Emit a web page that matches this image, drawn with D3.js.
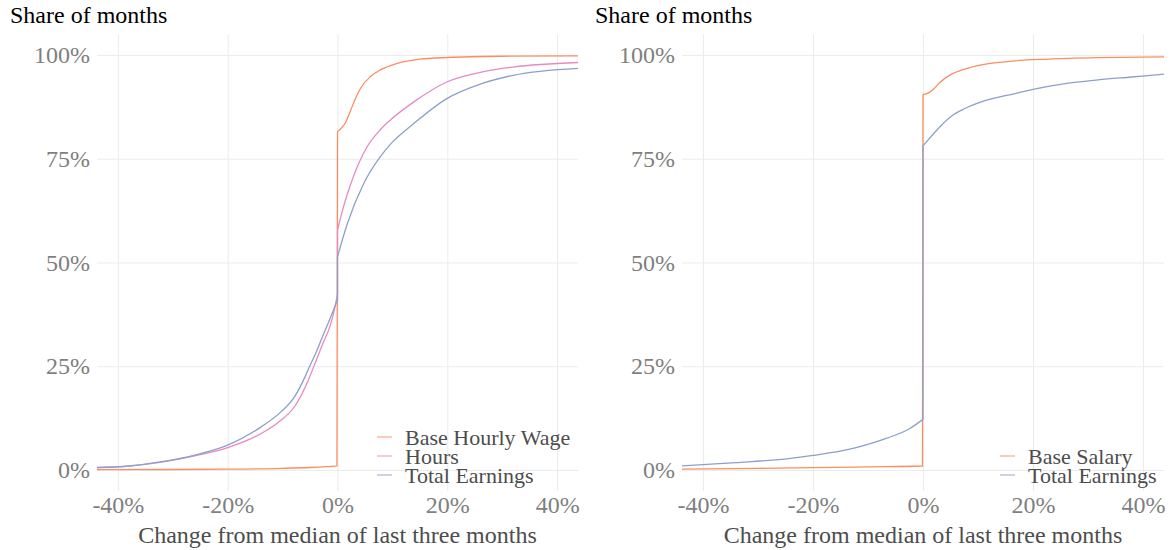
<!DOCTYPE html>
<html lang="en">
<head>
<meta charset="UTF-8">
<title>Share of months</title>
<script src="https://d3js.org/d3.v7.min.js"></script>
<style>
    body { margin: 0; background: #fff; }
    svg text { font-family: "Liberation Serif", "Times New Roman", serif; }
    .grid line { stroke: #ebebeb; stroke-width: 1; }
    .grid path { display: none; }
    .ticks path { display: none; }
    .ticks text { fill: #7f7f7f; font-size: 24px; }
</style>
</head>
<body>
<svg id="chart" width="1172" height="550"></svg>
<script>
// axis ticks
var xTicks = [-0.4, -0.2, 0, 0.2, 0.4];
var yTicks = [0, 0.25, 0.5, 0.75, 1];

// left panel: hourly workers
var hourlyWageX = [-0.44, -0.3, -0.2, -0.1, -0.05, -0.02, -0.001, 0, 0.005, 0.015, 0.024, 0.033, 0.042, 0.06, 0.078, 0.109, 0.15, 0.2, 0.3, 0.44];
var hourlyWageY = [0.001, 0.0012, 0.002, 0.004, 0.006, 0.008, 0.0097, 0.815, 0.821, 0.838, 0.867, 0.896, 0.92, 0.948, 0.964, 0.98, 0.99, 0.994, 0.997, 0.998];

var hoursX = [-0.44, -0.38, -0.32, -0.26, -0.2, -0.139, -0.103, -0.078, -0.053, -0.04, -0.025, -0.014, -0.005, 0, 0, 0.009, 0.018, 0.039, 0.054, 0.078, 0.096, 0.139, 0.199, 0.26, 0.32, 0.44];
var hoursY = [0.006, 0.0095, 0.019, 0.034, 0.054, 0.088, 0.12, 0.153, 0.217, 0.26, 0.31, 0.345, 0.39, 0.425, 0.578, 0.625, 0.665, 0.74, 0.779, 0.82, 0.843, 0.887, 0.935, 0.958, 0.971, 0.982];

var earningsLeftX = [-0.44, -0.38, -0.32, -0.26, -0.2, -0.139, -0.103, -0.078, -0.06, -0.05, -0.04, -0.025, -0.007, 0, 0, 0.018, 0.048, 0.078, 0.1, 0.139, 0.199, 0.26, 0.32, 0.44];
var earningsLeftY = [0.0056, 0.0096, 0.02, 0.036, 0.06, 0.104, 0.14, 0.177, 0.222, 0.252, 0.28, 0.329, 0.386, 0.41, 0.514, 0.594, 0.691, 0.755, 0.79, 0.835, 0.895, 0.93, 0.951, 0.968];

// right panel: salaried workers
var salaryX = [-0.44, -0.3, -0.2, -0.1, -0.001, 0, 0.009, 0.021, 0.03, 0.052, 0.076, 0.106, 0.167, 0.227, 0.318, 0.44];
var salaryY = [0.002, 0.004, 0.0055, 0.0075, 0.0096, 0.904, 0.908, 0.92, 0.933, 0.954, 0.966, 0.976, 0.986, 0.99, 0.9935, 0.9957];

var earningsRightX = [-0.44, -0.34, -0.248, -0.2, -0.127, -0.067, -0.024, 0, 0, 0.009, 0.03, 0.052, 0.076, 0.106, 0.167, 0.2, 0.258, 0.318, 0.379, 0.44];
var earningsRightY = [0.0096, 0.0177, 0.027, 0.035, 0.052, 0.076, 0.1, 0.122, 0.781, 0.795, 0.826, 0.853, 0.871, 0.887, 0.907, 0.917, 0.931, 0.94, 0.947, 0.954];

var colors = { orange: "#fc8d62", pink: "#e78ac3", blue: "#8da0cb" };

function toPoints(xs, ys) {
    return xs.map(function(x, i) { return [x, ys[i]]; });
}

var panels = [
    {
        left: 97, right: 578, labelRight: 90,
        legend: { x: 377, y: 445 },
        series: [
            { name: "Base Hourly Wage", color: colors.orange, points: toPoints(hourlyWageX, hourlyWageY) },
            { name: "Hours", color: colors.pink, points: toPoints(hoursX, hoursY) },
            { name: "Total Earnings", color: colors.blue, points: toPoints(earningsLeftX, earningsLeftY) }
        ]
    },
    {
        left: 682, right: 1164, labelRight: 675,
        legend: { x: 1000, y: 464 },
        series: [
            { name: "Base Salary", color: colors.orange, points: toPoints(salaryX, salaryY) },
            { name: "Total Earnings", color: colors.blue, points: toPoints(earningsRightX, earningsRightY) }
        ]
    }
];

var svg = d3.select("#chart");
var plotTop = 34.25, plotBottom = 490.75;

panels.forEach(function(p, pi) {
    var x = d3.scaleLinear().domain([-0.438, 0.438]).range([p.left, p.right]);
    var y = d3.scaleLinear().domain([-0.05, 1.05]).range([plotBottom, plotTop]);
    var fmt = function(d) { return Math.round(d * 100) + "%"; };

    // gridlines
    svg.append("g").attr("class", "grid")
        .attr("transform", "translate(0," + plotBottom + ")")
        .call(d3.axisBottom(x).tickValues(xTicks).tickSize(-(plotBottom - plotTop)).tickFormat(""));
    svg.append("g").attr("class", "grid")
        .attr("transform", "translate(" + p.left + ",0)")
        .call(d3.axisLeft(y).tickValues(yTicks).tickSize(-(p.right - p.left)).tickFormat(""));

    // tick labels
    svg.append("g").attr("class", "ticks")
        .attr("transform", "translate(0," + plotBottom + ")")
        .call(d3.axisBottom(x).tickValues(xTicks).tickSize(0).tickPadding(5).tickFormat(fmt))
        .selectAll("line").remove();
    svg.append("g").attr("class", "ticks")
        .attr("transform", "translate(" + p.labelRight + ",0)")
        .call(d3.axisLeft(y).tickValues(yTicks).tickSize(0).tickPadding(0).tickFormat(fmt))
        .selectAll("line").remove();

    // lines
    var clipId = "clip" + pi;
    svg.append("clipPath").attr("id", clipId)
        .append("rect")
        .attr("x", p.left).attr("y", plotTop)
        .attr("width", p.right - p.left).attr("height", plotBottom - plotTop);

    var line = d3.line()
        .curve(d3.curveMonotoneX)
        .x(function(d) { return x(d[0]); })
        .y(function(d) { return y(d[1]); });

    // smooth each side of the jump at zero separately, joined by a vertical step
    function stepPath(pts) {
        var k = pts.findIndex(function(d, i) { return i > 0 && d[0] === pts[i - 1][0]; });
        if (k < 0) return line(pts);
        return line(pts.slice(0, k)) + line(pts.slice(k)).replace(/^M/, "L");
    }

    svg.append("g").attr("clip-path", "url(#" + clipId + ")")
        .selectAll("path")
        .data(p.series)
        .enter().append("path")
        .attr("d", function(s) { return stepPath(s.points); })
        .attr("fill", "none")
        .attr("stroke", function(s) { return s.color; })
        .attr("stroke-width", 1.3);

    // titles
    svg.append("text")
        .attr("x", p.left - 87)
        .attr("y", 23)
        .attr("font-size", 24)
        .attr("fill", "#000")
        .text("Share of months");

    svg.append("text")
        .attr("x", (p.left + p.right) / 2)
        .attr("y", 543)
        .attr("text-anchor", "middle")
        .attr("font-size", 24)
        .attr("fill", "#4d4d4d")
        .text("Change from median of last three months");

    // legend
    var legend = svg.append("g")
        .attr("transform", "translate(" + p.legend.x + "," + p.legend.y + ")");
    p.series.forEach(function(s, i) {
        legend.append("line")
            .attr("x1", 0).attr("x2", 15)
            .attr("y1", i * 19 - 8).attr("y2", i * 19 - 8)
            .attr("stroke", s.color)
            .attr("stroke-opacity", 0.7)
            .attr("stroke-width", 1.3);
        legend.append("text")
            .attr("x", 28)
            .attr("y", i * 19)
            .attr("font-size", 22)
            .attr("fill", "#4d4d4d")
            .text(s.name);
    });
});
</script>
</body>
</html>
